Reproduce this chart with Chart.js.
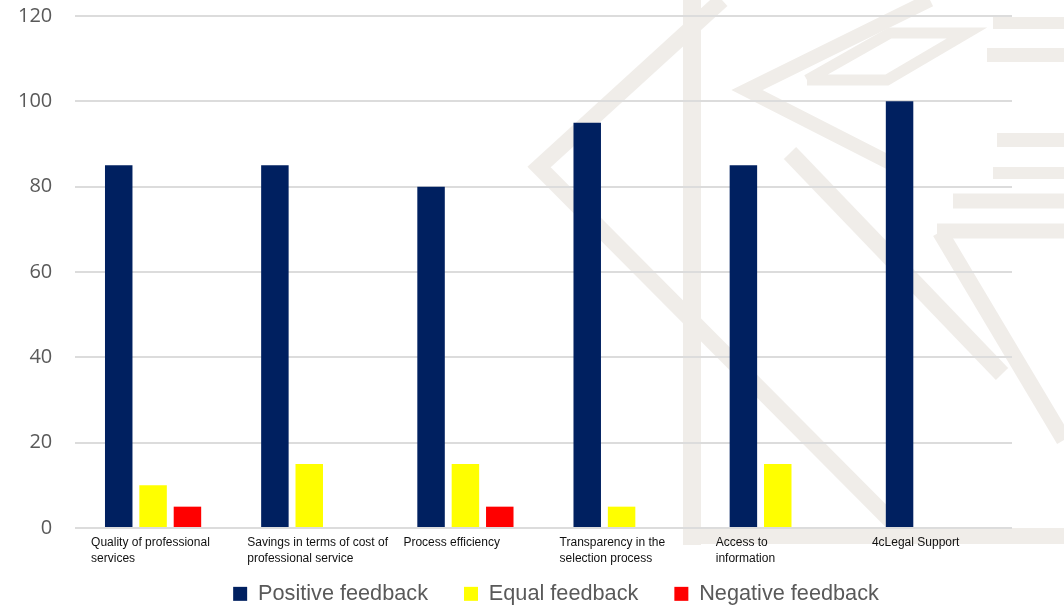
<!DOCTYPE html>
<html>
<head>
<meta charset="utf-8">
<script src="https://cdn.jsdelivr.net/npm/chart.js@4.4.1/dist/chart.umd.min.js"></script>
<style>
  html, body { margin: 0; padding: 0; background: #fff; }
  #wrap { width: 1064px; height: 605px; }
</style>
</head>
<body>
<div id="wrap"><canvas id="feedbackChart" width="1064" height="605"></canvas></div>
<script>
// Chart data
const categories = [
  ['Quality of professional', 'services'],
  ['Savings in terms of cost of', 'professional service'],
  'Process efficiency',
  ['Transparency in the', 'selection process'],
  ['Access to', 'information'],
  '4cLegal Support'
];
const seriesNames = ['Positive feedback', 'Equal feedback', 'Negative feedback'];
const positiveFeedback = [85, 85, 80, 95, 85, 100];
const equalFeedback = [10, 15, 15, 5, 15, 0];
const negativeFeedback = [5, 0, 5, 0, 0, 0];
const yTicks = [0, 20, 40, 60, 80, 100, 120];

// light grey logo watermark behind the chart (decoration only)
const watermark = {
  id: 'watermark',
  beforeDraw(chart) {
    const ctx = chart.ctx;
    const bands = [
      { w: 18, pts: [[692, 0], [692, 545]] },
      { w: 16, pts: [[683, 536], [1064, 536]] },
      { w: 16, pts: [[722, 0], [539, 167], [900, 530]] },
      { w: 17, pts: [[790, 153], [1002, 374]] },
      { w: 16, pts: [[940, 232], [1064, 440]] },
      { w: 14, pts: [[930, 0], [747, 90], [900, 168]] },
      { w: 11, pts: [[807, 80], [887, 80], [967, 33], [890, 33], [807, 80]] },
      { w: 12, pts: [[993, 23], [1064, 23]] },
      { w: 14, pts: [[987, 55], [1064, 55]] },
      { w: 14, pts: [[997, 140], [1064, 140]] },
      { w: 12, pts: [[993, 173], [1064, 173]] },
      { w: 15, pts: [[953, 201], [1064, 201]] },
      { w: 15, pts: [[937, 231], [1064, 231]] }
    ];
    ctx.save();
    ctx.fillStyle = '#ffffff';
    ctx.fillRect(0, 0, chart.width, chart.height);
    ctx.strokeStyle = '#f0ede9';
    ctx.lineJoin = 'miter';
    bands.forEach(b => {
      ctx.lineWidth = b.w;
      ctx.beginPath();
      b.pts.forEach((p, i) => i ? ctx.lineTo(p[0], p[1]) : ctx.moveTo(p[0], p[1]));
      ctx.stroke();
    });
    ctx.restore();
  }
};

const ctx = document.getElementById('feedbackChart').getContext('2d');
new Chart(ctx, {
  type: 'bar',
  data: {
    labels: categories,
    datasets: [
      { label: seriesNames[0], data: positiveFeedback, backgroundColor: '#002060' },
      { label: seriesNames[1], data: equalFeedback, backgroundColor: '#ffff00' },
      { label: seriesNames[2], data: negativeFeedback, backgroundColor: '#ff0000' }
    ]
  },
  options: {
    responsive: false,
    animation: false,
    devicePixelRatio: 1,
    categoryPercentage: 0.66,
    barPercentage: 0.8,
    layout: { padding: { left: 48, right: 0, top: 16, bottom: 0 } },
    scales: {
      x: {
        grid: { display: false },
        border: { display: false },
        ticks: {
          align: 'start',
          mirror: true,
          labelOffset: -62,
          padding: -23,
          maxRotation: 0,
          autoSkip: false,
          color: '#111111',
          font: { family: '"Liberation Sans", Arial, sans-serif', size: 12, lineHeight: 1.33 }
        },
        afterFit: s => { s.height = 19; }
      },
      y: {
        min: yTicks[0],
        max: yTicks[yTicks.length - 1],
        border: { display: false },
        grid: { color: '#dcdcdc', lineWidth: 2, drawTicks: false },
        ticks: {
          stepSize: yTicks[1] - yTicks[0],
          mirror: true,
          crossAlign: 'far',
          padding: -57,
          color: '#595959',
          font: { family: '"Open Sans", sans-serif', size: 20 }
        },
        afterFit: s => { s.width = 27; }
      },
      spacer: {
        position: 'right',
        grid: { display: false },
        border: { display: false },
        ticks: { display: false },
        afterFit: s => { s.width = 52; }
      }
    },
    plugins: {
      tooltip: { enabled: false },
      legend: {
        position: 'bottom',
        maxHeight: 58,
        labels: {
          boxWidth: 14,
          boxHeight: 14,
          padding: 36,
          color: '#595959',
          font: { family: '"Liberation Sans", Arial, sans-serif', size: 21.7 }
        }
      }
    }
  },
  plugins: [watermark]
});
</script>
</body>
</html>
